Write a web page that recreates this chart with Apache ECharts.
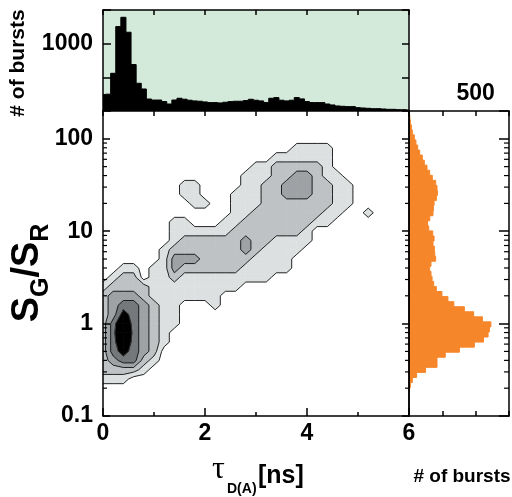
<!DOCTYPE html>
<html>
<head>
<meta charset="utf-8">
<script src="https://cdn.jsdelivr.net/npm/echarts@6.0.0/dist/echarts.min.js"></script>
<style>
html,body{margin:0;padding:0;background:#ffffff;}
#chart{width:512px;height:497px;}
</style>
</head>
<body>
<div id="chart"></div>
<script>
// ---------------- data ----------------
// top marginal histogram: tau_D(A) [ns] bin centres and burst counts
const tauBinCenters = [0.0,0.1,0.2,0.3,0.4,0.5,0.6,0.7,0.8,0.9,
  1.0,1.1,1.2,1.3,1.4,1.5,1.6,1.7,1.8,1.9,
  2.0,2.1,2.2,2.3,2.4,2.5,2.6,2.7,2.8,2.9,
  3.0,3.1,3.2,3.3,3.4,3.5,3.6,3.7,3.8,3.9,
  4.0,4.1,4.2,4.3,4.4,4.5,4.6,4.7,4.8,4.9,
  5.0,5.1,5.2,5.3,5.4,5.5,5.6,5.7,5.8,5.9,6.0];
const tauBinWidth = 0.1;
const tauCounts = [245,250,560,1254,1392,1170,690,412,327,178,
  163,163,140,104,163,189,175,160,150,145,
  135,125,125,120,130,140,145,145,155,174,
  160,150,125,189,199,160,150,160,199,180,
  140,125,125,125,104,90,75,70,65,65,
  50,45,40,35,35,30,25,25,20,20,15];

// right marginal histogram: S_G/S_R in log10 bins, burst counts (bottom to top)
const ratioLogFirstEdge = -0.747;
const ratioLogBinWidth = 0.0547;
const ratioCounts = [4,10,25,57,124,210,210,272,378,490,
  559,593,603,614,551,485,415,336,292,247,
  205,185,173,165,155,165,200,193,190,180,
  188,178,148,139,156,180,183,188,205,213,
  210,200,175,155,135,115,100,80,65,52,
  40,25,18,10,6];

// 2D burst histogram as contour level (0 = empty ... 5 = highest) at grid nodes
const gridTau = [0,0.2,0.4,0.6,0.8,1.0,1.2,1.4,1.6,1.8,2.0,2.2,2.4,2.6,2.8,3.0,
  3.2,3.4,3.6,3.8,4.0,4.2,4.4,4.6,4.8,5.0,5.2,5.4,5.6,5.8,6.0];
const gridLogRatio = [2.3,2.2,2.1,2.0,1.9,1.8,1.7,1.6,1.5,1.4,1.3,1.2,1.1,1.0,0.9,0.8,
  0.7,0.6,0.5,0.4,0.3,0.2,0.1,0.0,-0.1,-0.2,-0.3,-0.4,-0.5,-0.6,-0.7,-0.8,-0.9,-1.0];
const levelRows = [
  "00000|00000|00000|00000|00000|00000|0",
  "00000|00000|00000|00000|00000|00000|0",
  "00000|00000|00000|00000|00000|00000|0",
  "00000|00000|00000|00000|00000|00000|0",
  "00000|00000|00000|00001|11100|00000|0",
  "00000|00000|00000|00111|11100|00000|0",
  "00000|00000|00000|11222|22100|00000|0",
  "00000|00000|00001|11223|32110|00000|0",
  "00000|00011|00001|12233|32211|00000|0",
  "00000|00011|00011|12233|32211|00000|0",
  "00000|00001|10011|12222|22211|00000|0",
  "00000|00000|00011|22222|22110|01000|0",
  "00000|00110|00112|22222|21100|00000|0",
  "00000|00111|11122|22222|10000|00000|0",
  "00000|00122|22223|22111|10000|00000|0",
  "00000|01222|22223|21111|00000|00000|0",
  "00000|01333|22222|11110|00000|00000|0",
  "00110|11322|22221|11110|00000|00000|0",
  "01220|11211|11111|11000|00000|00000|0",
  "12222|11111|11110|00000|00000|00000|0",
  "23332|11111|11000|00000|00000|00000|0",
  "23443|21100|01000|00000|00000|00000|0",
  "23543|21100|00000|00000|00000|00000|0",
  "24643|21100|00000|00000|00000|00000|0",
  "24743|21000|00000|00000|00000|00000|0",
  "24643|21000|00000|00000|00000|00000|0",
  "24543|20000|00000|00000|00000|00000|0",
  "23442|10000|00000|00000|00000|00000|0",
  "22221|00000|00000|00000|00000|00000|0",
  "11100|00000|00000|00000|00000|00000|0",
  "00000|00000|00000|00000|00000|00000|0",
  "00000|00000|00000|00000|00000|00000|0",
  "00000|00000|00000|00000|00000|00000|0",
  "00000|00000|00000|00000|00000|00000|0"
];

// tick labels
const tauTickLabels = [0, 2, 4, 6];
const ratioTickLabels = [0.1, 1, 10, 100];
const ratioMinorTicks = [0.2,0.3,0.4,0.5,0.6,0.7,0.8,0.9,2,3,4,5,6,7,8,9,20,30,40,50,60,70,80,90];
const topBurstLabels = [1000];
const rightBurstLabels = [500];

// ---------------- styles ----------------
const levelColors = ['#dde0e1', '#bfc2c4', '#9fa2a5', '#75787b', '#000000'];
const FONT = 'Liberation Sans';
const labelStyle = {show: true, color: '#000', fontSize: 23, fontWeight: 'bold', fontFamily: FONT};

// ---------------- build contour cells ----------------
const G = levelRows.map(s => s.replace(/\|/g, '').split('').map(Number));
const cells = [];
for (let r = 0; r < gridLogRatio.length - 1; r++) {
  for (let c = 0; c < gridTau.length - 1; c++) {
    const a = G[r][c], b = G[r][c + 1], d = G[r + 1][c + 1], e = G[r + 1][c];
    if (a + b + d + e === 0) continue;
    cells.push([gridTau[c], gridTau[c + 1], Math.pow(10, gridLogRatio[r]), Math.pow(10, gridLogRatio[r + 1]), a, b, d, e]);
  }
}
function corners(api) {
  const x0 = api.value(0), x1 = api.value(1), yt = api.value(2), yb = api.value(3);
  return [api.coord([x0, yt]), api.coord([x1, yt]), api.coord([x1, yb]), api.coord([x0, yb])];
}
function vals(api) { return [api.value(4), api.value(5), api.value(6), api.value(7)]; }
function lerp(p, q, f) { return [p[0] + (q[0] - p[0]) * f, p[1] + (q[1] - p[1]) * f]; }
function fillPoly(P, v, t) {
  const pts = [];
  for (let i = 0; i < 4; i++) {
    const j = (i + 1) % 4, ii = v[i] >= t, jj = v[j] >= t;
    if (ii) pts.push(P[i]);
    if (ii !== jj) pts.push(lerp(P[i], P[j], (t - v[i]) / (v[j] - v[i])));
  }
  return pts;
}
function isoSegs(P, v, t) {
  const cr = [];
  for (let i = 0; i < 4; i++) {
    const j = (i + 1) % 4;
    if ((v[i] >= t) !== (v[j] >= t)) cr.push(lerp(P[i], P[j], (t - v[i]) / (v[j] - v[i])));
  }
  if (cr.length === 2) return [[cr[0], cr[1]]];
  if (cr.length === 4) return v[0] >= t ? [[cr[0], cr[1]], [cr[2], cr[3]]] : [[cr[1], cr[2]], [cr[3], cr[0]]];
  return [];
}
const cellDims = ['x0', 'x1', 'yt', 'yb', 'a', 'b', 'c', 'd'];

// ---------------- axes ----------------
function ax(o) {
  return Object.assign({
    type: 'value', z: 10, splitLine: {show: false}, minorSplitLine: {show: false}, splitArea: {show: false},
    axisLine: {show: true, onZero: false, lineStyle: {color: '#000', width: 1.5}},
    axisTick: {show: true, inside: true, length: 5, lineStyle: {color: '#000', width: 1.5}},
    axisLabel: {show: false}
  }, o);
}
function logLabel(v) {
  const l = Math.log10(v);
  if (Math.abs(l - Math.round(l)) > 1e-6) return '';
  const r = +Math.pow(10, Math.round(l)).toPrecision(3);
  return ratioTickLabels.indexOf(r) >= 0 ? String(r) : '';
}

const series = [];
// top histogram: one step-outline polygon through the axis scales
series.push({
  type: 'custom', xAxisIndex: 0, yAxisIndex: 0, clip: true, silent: true, z: 2,
  data: [[tauBinCenters[0], tauCounts[0]]],
  encode: {x: 0, y: 1},
  renderItem: (p, api) => {
    const h = tauBinWidth / 2;
    const pts = [api.coord([tauBinCenters[0] - h, 0])];
    tauBinCenters.forEach((c, i) => {
      pts.push(api.coord([c - h, tauCounts[i]]));
      pts.push(api.coord([c + h, tauCounts[i]]));
    });
    pts.push(api.coord([tauBinCenters[tauBinCenters.length - 1] + h, 0]));
    return {type: 'polygon', shape: {points: pts},
      style: {fill: '#000000', stroke: '#000000', lineWidth: 1, opacity: 1}};
  }
});
// filled contour bands
for (let k = 1; k <= 5; k++) {
  series.push({
    type: 'custom', xAxisIndex: 1, yAxisIndex: 2, clip: true, silent: true, z: 2,
    dimensions: cellDims, data: cells, encode: {x: [0, 1], y: [2, 3]},
    renderItem: (p, api) => {
      const pts = fillPoly(corners(api), vals(api), k - 0.5);
      if (pts.length < 3) return null;
      return {type: 'polygon', shape: {points: pts},
        style: {fill: levelColors[k - 1], stroke: levelColors[k - 1], lineWidth: 0.6}};
    }
  });
}
// contour lines
series.push({
  type: 'custom', xAxisIndex: 1, yAxisIndex: 2, clip: true, silent: true, z: 3,
  dimensions: cellDims, data: cells, encode: {x: [0, 1], y: [2, 3]},
  renderItem: (p, api) => {
    const P = corners(api), v = vals(api), ch = [];
    for (let k = 1; k <= 5; k++) {
      isoSegs(P, v, k - 0.5).forEach(s => ch.push({type: 'polyline', shape: {points: s},
        style: {stroke: k === 5 ? '#333' : '#111', lineWidth: 0.9, fill: null}}));
    }
    return {type: 'group', children: ch};
  }
});
// minor log ticks, main plot (left and right sides)
series.push({
  type: 'custom', xAxisIndex: 1, yAxisIndex: 2, clip: false, silent: true, z: 11,
  data: ratioMinorTicks.map(v => [0, v]), encode: {x: 0, y: 1},
  renderItem: (p, api) => {
    const v = api.value(1);
    const L = api.coord([0, v]), R = api.coord([6, v]);
    return {type: 'group', children: [
      {type: 'line', shape: {x1: L[0], y1: L[1], x2: L[0] + 4, y2: L[1]}, style: {stroke: '#000', lineWidth: 1.2}},
      {type: 'line', shape: {x1: R[0] - 4, y1: R[1], x2: R[0], y2: R[1]}, style: {stroke: '#000', lineWidth: 1.2}}
    ]};
  }
});
// right histogram: one step-outline polygon through the axis scales
series.push({
  type: 'custom', xAxisIndex: 3, yAxisIndex: 4, clip: true, silent: true, z: 2,
  data: [[1, ratioCounts[0]]],
  encode: {x: 1, y: 0},
  renderItem: (p, api) => {
    const edge = i => Math.pow(10, ratioLogFirstEdge + i * ratioLogBinWidth);
    const pts = [api.coord([0, edge(0)])];
    ratioCounts.forEach((n, i) => {
      pts.push(api.coord([n, edge(i)]));
      pts.push(api.coord([n, edge(i + 1)]));
    });
    pts.push(api.coord([0, edge(ratioCounts.length)]));
    return {type: 'polygon', shape: {points: pts},
      style: {fill: '#f6862a', stroke: '#f6862a', lineWidth: 1, opacity: 1}};
  }
});
// minor log ticks, right histogram (right side)
series.push({
  type: 'custom', xAxisIndex: 3, yAxisIndex: 4, clip: false, silent: true, z: 11,
  data: ratioMinorTicks.map(v => [0, v]), encode: {x: 0, y: 1},
  renderItem: (p, api) => {
    const v = api.value(1);
    const R = api.coord([750, v]);
    return {type: 'line', shape: {x1: R[0] - 5, y1: R[1], x2: R[0], y2: R[1]}, style: {stroke: '#000', lineWidth: 1.2}};
  }
});

const option = {
  animation: false,
  backgroundColor: '#ffffff',
  grid: [
    {left: 103, top: 10, width: 306, height: 101, show: true, backgroundColor: '#d3eadb', borderWidth: 0},
    {left: 103, top: 111, width: 306, height: 305},
    {left: 409, top: 111, width: 101, height: 305}
  ],
  xAxis: [
    ax({gridIndex: 0, position: 'top', min: 0, max: 6, interval: 1}),
    ax({gridIndex: 1, position: 'bottom', min: 0, max: 6, interval: 2,
      axisTick: {show: true, inside: true, length: 8, lineStyle: {color: '#000', width: 1.5}},
      minorTick: {show: true, splitNumber: 2, length: 4, lineStyle: {color: '#000', width: 1.5}},
      axisLabel: Object.assign({}, labelStyle, {margin: 6,
        formatter: v => tauTickLabels.indexOf(v) >= 0 ? String(v) : ''})}),
    ax({gridIndex: 1, position: 'top', min: 0, max: 6, interval: 1}),
    ax({gridIndex: 2, position: 'top', min: 0, max: 750, interval: 250,
      axisLabel: Object.assign({}, labelStyle, {margin: 6,
        formatter: v => rightBurstLabels.indexOf(v) >= 0 ? String(v) : ''})}),
    ax({gridIndex: 2, position: 'bottom', min: 0, max: 750, interval: 250})
  ],
  yAxis: [
    ax({gridIndex: 0, position: 'left', min: 0, max: 1500, interval: 500,
      axisTick: {show: true, inside: true, length: 8, lineStyle: {color: '#000', width: 1.5}},
      axisLabel: Object.assign({}, labelStyle, {margin: 10,
        formatter: v => topBurstLabels.indexOf(v) >= 0 ? String(v) : ''})}),
    ax({gridIndex: 0, position: 'right', min: 0, max: 1500, interval: 500,
      axisTick: {show: true, inside: true, length: 7, lineStyle: {color: '#000', width: 1.5}}}),
    ax({gridIndex: 1, type: 'log', logBase: 10, position: 'left', min: 0.1, max: 200,
      axisTick: {show: true, inside: true, length: 7, lineStyle: {color: '#000', width: 1.5}},
      axisLabel: Object.assign({}, labelStyle, {margin: 10, formatter: logLabel})}),
    ax({gridIndex: 1, type: 'log', logBase: 10, position: 'right', min: 0.1, max: 200,
      axisTick: {show: true, inside: true, length: 7, lineStyle: {color: '#000', width: 1.5}}}),
    ax({gridIndex: 2, type: 'log', logBase: 10, position: 'right', min: 0.1, max: 200,
      axisTick: {show: true, inside: true, length: 10, lineStyle: {color: '#000', width: 1.5}}}),
    ax({gridIndex: 2, type: 'log', logBase: 10, position: 'left', min: 0.1, max: 200,
      axisTick: {show: false}})
  ],
  series: series,
  graphic: [
    {type: 'text', x: 18, y: 63, rotation: Math.PI / 2, z: 20,
      style: {text: '# of bursts', fill: '#000', font: 'bold 21px "Liberation Sans"',
        align: 'center', verticalAlign: 'middle', textAlign: 'center', textVerticalAlign: 'middle'}},
    {type: 'text', x: 29, y: 273, rotation: Math.PI / 2, z: 20,
      style: {text: '{m|S}{s|G}{m|/S}{s|R}', fill: '#000',
        align: 'center', verticalAlign: 'middle', textAlign: 'center', textVerticalAlign: 'middle',
        rich: {
          m: {fontSize: 38, fontWeight: 'bold', fontFamily: FONT, lineHeight: 40, verticalAlign: 'top'},
          s: {fontSize: 25, fontWeight: 'bold', fontFamily: FONT, lineHeight: 25, verticalAlign: 'top', padding: [20, 0, 0, 0]}
        }}},
    {type: 'text', x: 212, y: 470, z: 20,
      style: {text: 'τ', fill: '#000', font: '32px "Liberation Serif"',
        align: 'left', verticalAlign: 'middle', textAlign: 'left', textVerticalAlign: 'middle'}},
    {type: 'text', x: 227, y: 489, z: 20,
      style: {text: 'D(A)', fill: '#000', font: 'bold 14px "Liberation Sans"',
        align: 'left', verticalAlign: 'middle', textAlign: 'left', textVerticalAlign: 'middle'}},
    {type: 'text', x: 258, y: 476, z: 20,
      style: {text: '[ns]', fill: '#000', font: 'bold 25px "Liberation Sans"',
        align: 'left', verticalAlign: 'middle', textAlign: 'left', textVerticalAlign: 'middle'}},
    {type: 'text', x: 462, y: 477, z: 20,
      style: {text: '# of bursts', fill: '#000', font: 'bold 19px "Liberation Sans"',
        align: 'center', verticalAlign: 'middle', textAlign: 'center', textVerticalAlign: 'middle'}}
  ]
};
const chart = echarts.init(document.getElementById('chart'), null, {renderer: 'canvas', width: 512, height: 497});
chart.setOption(option);
</script>
</body>
</html>
